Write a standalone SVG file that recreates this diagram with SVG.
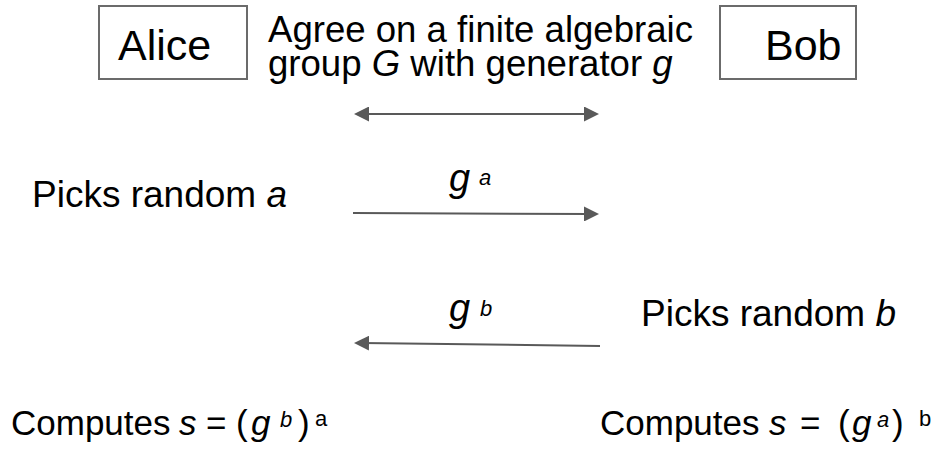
<svg xmlns="http://www.w3.org/2000/svg" width="938" height="456" viewBox="0 0 938 456">
<style>
.box{fill:#fff;stroke:#6b6b6b;stroke-width:2}
.t{font-family:"Liberation Sans",Arial,sans-serif;fill:#000;font-size:36.6px}
.big{font-size:43px}
.p{font-size:37px}
.c{font-size:35px}
.i{font-style:italic}
.sup{font-size:22px}
.conn{stroke:#595959;stroke-width:2;fill:none}
</style>
<defs>
<marker id="ah" viewBox="0 0 15 15" markerWidth="15" markerHeight="15" refX="7" refY="7.5" orient="auto-start-reverse" markerUnits="userSpaceOnUse">
<path d="M0,0 L15,7.5 L0,15 z" fill="#595959"/>
</marker>
</defs>
<rect width="938" height="456" fill="#fff"/>
<g id="alice">
<rect class="box" x="99" y="6" width="148" height="73"/>
<text class="t big" x="118" y="60">Alice</text>
</g>
<g id="bob">
<rect class="box" x="720" y="6" width="136" height="73"/>
<text class="t big" x="765" y="60">Bob</text>
</g>
<g id="agree">
<text class="t" x="268" y="42">Agree on a finite algebraic</text>
<text class="t" x="268" y="76">group <tspan class="i">G</tspan> with generator <tspan class="i">g</tspan></text>
</g>
<g id="connectors">
<path class="conn" d="M362,114 L591,114" marker-start="url(#ah)" marker-end="url(#ah)"/>
<path class="conn" d="M353,213 L591,214" marker-end="url(#ah)"/>
<path class="conn" d="M600,346 L362,343" marker-end="url(#ah)"/>
</g>
<g id="label-ga">
<text class="t i" x="449" y="191" style="font-size:38px">g</text>
<text class="t i sup" x="479" y="185">a</text>
</g>
<g id="label-gb">
<text class="t i" x="449" y="321" style="font-size:38px">g</text>
<text class="t i sup" x="480" y="316">b</text>
</g>
<g id="alice-picks">
<text class="t p" x="32" y="207">Picks random <tspan class="i">a</tspan></text>
</g>
<g id="bob-picks">
<text class="t p" x="641" y="326">Picks random <tspan class="i">b</tspan></text>
</g>
<g id="alice-computes">
<text class="t c" y="435"><tspan x="11">Computes</tspan><tspan class="i" x="179">s</tspan><tspan x="206">=</tspan><tspan x="236">(</tspan><tspan class="i" x="251">g</tspan><tspan class="i sup" x="280" y="427">b</tspan><tspan x="298" y="435">)</tspan><tspan class="sup" x="315" y="426">a</tspan></text>
</g>
<g id="bob-computes">
<text class="t c" y="435"><tspan x="600">Computes</tspan><tspan class="i" x="769">s</tspan><tspan x="800">=</tspan><tspan x="838">(</tspan><tspan class="i" x="852">g</tspan><tspan class="i sup" x="877" y="427">a</tspan><tspan x="892" y="435">)</tspan><tspan class="sup" x="919" y="426">b</tspan></text>
</g>
</svg>
